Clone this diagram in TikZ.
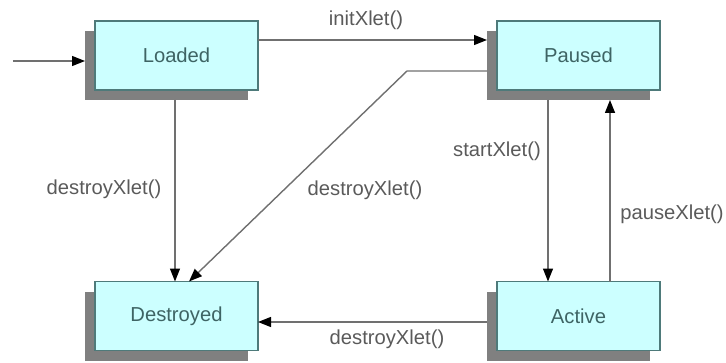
\documentclass[tikz,border=0pt]{standalone}
\usepackage{fontspec}
\setmainfont{Liberation Sans}
\usetikzlibrary{arrows.meta,shadows}
\definecolor{S1}{RGB}{204,255,255}
\definecolor{S2}{RGB}{78,122,122}
\definecolor{T1}{RGB}{62,100,100}
\definecolor{L1}{RGB}{112,112,112}
\definecolor{G1}{RGB}{128,128,128}
\tikzset{
  state/.style={draw=S2, fill=S1, text=T1, line width=1pt, outer sep=0pt,
                minimum width=3.26cm, minimum height=1.38cm,
                font=\fontsize{11.5}{13}\selectfont,
                drop shadow={shadow xshift=-0.2cm, shadow yshift=-0.2cm, fill=G1, opacity=1}},
  trans/.style={draw=L1, line width=0.8pt, -{Triangle[length=0.26cm, width=0.2cm, color=black]}},
  lbl/.style={text=L1!80!black, font=\fontsize{11.5}{13}\selectfont, inner sep=0pt}
}

\begin{document}
\begin{tikzpicture}
  \useasboundingbox (0,0) rectangle (14.52,7.24);
  % the four states
  \node[state] (loaded)    at (3.53, 6.13) {Loaded};
  \node[state] (paused)    at (11.57,6.13) {Paused};
  \node[state] (destroyed) at (3.53, 0.92) {Destroyed};
  \node[state] (active)    at (11.57,0.92) {Active};
  \coordinate (entry) at (0.26, 6.02);
  \coordinate (bend)  at (8.14, 5.82);
  % transitions
  \draw[trans, shorten >=0.2cm] (entry) -- (entry -| loaded.west);
  \draw[trans] ([yshift=0.31cm]loaded.east) -- ([xshift=-0.2cm,yshift=0.31cm]paused.west);
  \draw[trans] ([xshift=-0.03cm,yshift=-0.2cm]loaded.south) -- ([xshift=-0.03cm]destroyed.north);
  \draw[trans] ([xshift=-0.2cm,yshift=-0.31cm]paused.west) -- (bend) -- ([xshift=0.25cm]destroyed.north);
  \draw[trans] ([xshift=-0.61cm,yshift=-0.2cm]paused.south) -- ([xshift=-0.61cm]active.north);
  \draw[trans] ([xshift=0.63cm]active.north) -- ([xshift=0.63cm,yshift=-0.2cm]paused.south);
  \draw[trans] ([xshift=-0.2cm,yshift=-0.12cm]active.west) -- ([yshift=-0.12cm]destroyed.east);
  % labels
  \node[lbl] (init)    at (7.32, 6.84) {initXlet()};
  \node[lbl] (dleft)   at (2.08, 3.46) {destroyXlet()};
  \node[lbl] (dmid)    at (7.30, 3.44) {destroyXlet()};
  \node[lbl] (start)   at (9.94, 4.22) {startXlet()};
  \node[lbl] (pause)   at (13.44,2.96) {pauseXlet()};
  \node[lbl] (dbottom) at (7.74, 0.46) {destroyXlet()};
\end{tikzpicture}
\end{document}
